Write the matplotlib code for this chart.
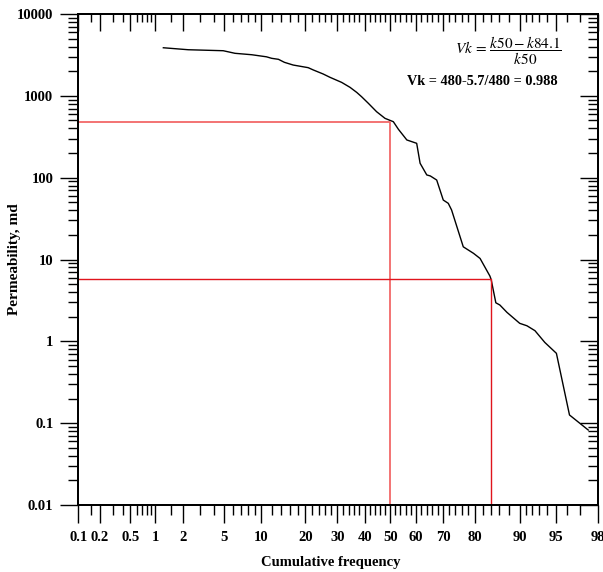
from statistics import NormalDist
import numpy as np
import matplotlib
matplotlib.use("Agg")
import matplotlib.pyplot as plt
from matplotlib.ticker import FixedLocator, FixedFormatter, LogLocator, NullFormatter

plt.rcParams['font.family'] = ['Liberation Serif', 'DejaVu Serif']
plt.rcParams['mathtext.fontset'] = 'stix'

# Cumulative frequency (%) vs permeability (md)
cum_freq = [1.23, 2.27, 4.9, 6.2, 8.5, 11.0, 12.0, 13.4, 14.7, 16.8, 20.8, 22.3,
            25.3, 27.5, 31.5, 34.5, 37.0, 38.8, 41.4, 44.6, 47.9, 50.0, 51.2, 53.2,
            56.5, 60.3, 61.6, 64.1, 65.4, 67.7, 70.0, 71.7, 72.8, 76.5, 79.5, 81.3,
            83.8, 84.1, 85.2, 86.1, 87.6, 90.0, 91.2, 92.4, 93.7, 95.0, 96.2, 97.5]
permeability = [3870, 3660, 3560, 3310, 3180, 3000, 2875, 2795, 2570, 2380, 2210, 2070,
                1850, 1685, 1460, 1270, 1100, 976, 810, 640, 531, 500, 483, 390,
                289, 263, 150, 108, 105, 93.6, 53.3, 48.6, 40.3, 14.3, 11.9, 10.3,
                6.28, 5.7, 2.96, 2.78, 2.26, 1.66, 1.55, 1.35, 0.97, 0.714, 0.126, 0.0825]

k50 = 480
k841 = 5.7

x_major = [0.1, 0.2, 0.5, 1, 2, 5, 10, 20, 30, 40, 50, 60, 70, 80, 90, 95, 98]
x_major_labels = ['0.1', '0.2', '0.5', '1', '2', '5', '10', '20', '30', '40', '50',
                  '60', '70', '80', '90', '95', '98']
x_minor = [0.15, 0.3, 0.4, 0.6, 0.7, 0.8, 0.9, 1.5, 3, 4, 6, 7, 8, 9,
           12, 14, 16, 18, 22, 24, 26, 28, 32, 34, 36, 38, 42, 44, 46, 48,
           52, 54, 56, 58, 62, 64, 66, 68, 72, 74, 76, 78, 82, 84, 86, 88,
           91, 92, 93, 94, 96, 97]
y_major = [0.01, 0.1, 1, 10, 100, 1000, 10000]
y_major_labels = ['0.01', '0.1', '1', '10', '100', '1000', '10000']

_nd = NormalDist()


def prob_forward(p):
    p = np.clip(np.asarray(p, dtype=float) / 100.0, 1e-9, 1 - 1e-9)
    return np.vectorize(_nd.inv_cdf, otypes=[float])(p)


def prob_inverse(z):
    return np.vectorize(_nd.cdf, otypes=[float])(np.asarray(z, dtype=float)) * 100.0


def setup_x(a):
    a.set_xscale('function', functions=(prob_forward, prob_inverse))
    a.set_xlim(0.1, 98)
    a.xaxis.set_major_locator(FixedLocator(x_major))
    a.xaxis.set_minor_locator(FixedLocator(x_minor))
    a.xaxis.set_minor_formatter(NullFormatter())


def setup_y(a):
    a.set_yscale('log')
    a.set_ylim(0.01, 10000)
    a.yaxis.set_major_locator(FixedLocator(y_major))
    a.yaxis.set_minor_locator(LogLocator(base=10, subs=np.arange(2, 10)))
    a.yaxis.set_minor_formatter(NullFormatter())


fig = plt.figure(figsize=(6.03, 5.72), dpi=100)
ax = fig.add_axes([0.1298, 0.1171, 0.8614, 0.8584])
setup_x(ax)
setup_y(ax)

ax.plot(cum_freq, permeability, color='black', lw=1.0)

# k50 and k84.1 reference lines
ax.plot([0.1, 50, 50], [k50, k50, 0.01], color='#f26868', lw=1.3)
ax.plot([0.1, 84.1, 84.1], [k841, k841, 0.01], color='#e0141c', lw=1.0)

ax.xaxis.set_major_formatter(FixedFormatter(x_major_labels))
ax.yaxis.set_major_formatter(FixedFormatter(y_major_labels))

ax.tick_params(which='major', direction='out', length=13, width=1.0,
               top=False, right=False)
ax.tick_params(which='minor', direction='out', length=7, width=1.0,
               top=False, right=False)
ax.tick_params(axis='x', which='major', pad=6)
ax.tick_params(axis='y', which='major', pad=5)
for lab in ax.get_xticklabels() + ax.get_yticklabels():
    lab.set_fontweight('bold')
    lab.set_fontsize(10.5)

# inward ticks on the top and right sides
ax_top = ax.twiny()
setup_x(ax_top)
ax_top.xaxis.set_major_formatter(NullFormatter())
ax_top.tick_params(axis='x', which='major', direction='in', length=12, width=1.0)
ax_top.tick_params(axis='x', which='minor', direction='in', length=6, width=1.0)

ax_right = ax.twinx()
setup_y(ax_right)
ax_right.yaxis.set_major_formatter(NullFormatter())
ax_right.tick_params(axis='y', which='major', direction='in', length=13, width=1.0)
ax_right.tick_params(axis='y', which='minor', direction='in', length=7, width=1.0)

for a in (ax, ax_top, ax_right):
    for s in a.spines.values():
        s.set_linewidth(1.2)

ax.set_xlabel('Cumulative frequency', fontsize=10.5, fontweight='bold')
ax.set_ylabel('Permeability, md', fontsize=11, fontweight='bold')
ax.xaxis.set_label_coords(0.487, -0.104)
ax.yaxis.set_label_coords(-0.11, 0.5)

ax.text(0.931, 0.925, r'$Vk\,=\,\dfrac{k50 - k84.1}{k50}$', transform=ax.transAxes,
        ha='right', va='center', fontsize=11)
ax.text(0.922, 0.8635, 'Vk = 480-5.7/480 = 0.988', transform=ax.transAxes,
        ha='right', va='center', fontsize=10.3, fontweight='bold')

fig.savefig('out.png', dpi=100)
